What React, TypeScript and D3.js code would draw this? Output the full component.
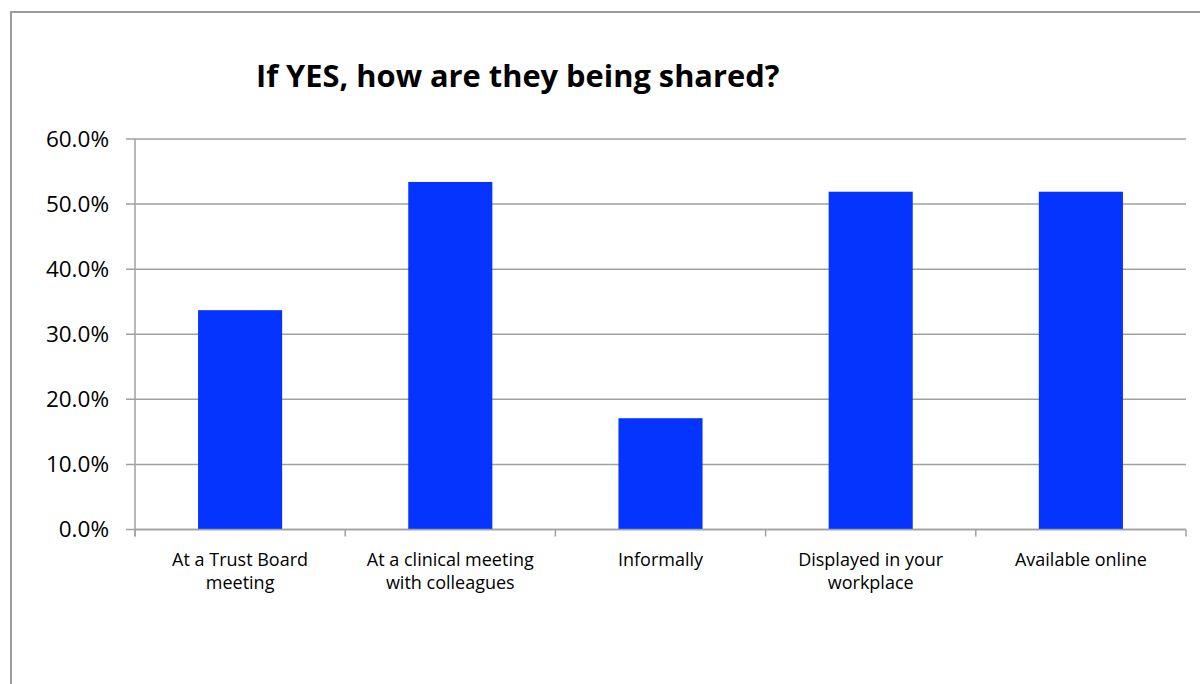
import React from "react";
import * as d3 from "d3";

const title = "If YES, how are they being shared?";
const categories = [
  "At a Trust Board meeting",
  "At a clinical meeting with colleagues",
  "Informally",
  "Displayed in your workplace",
  "Available online",
];
const categoryLines = [
  ["At a Trust Board", "meeting"],
  ["At a clinical meeting", "with colleagues"],
  ["Informally"],
  ["Displayed in your", "workplace"],
  ["Available online"],
];
const values = [33.7, 53.4, 17.1, 51.9, 51.9];
const yTicks = [0, 10, 20, 30, 40, 50, 60];

const W = 1200;
const H = 684;
const plotLeft = 135;
const plotRight = 1186;
const plotTop = 139;
const plotBottom = 529.5;
const FONT = "'Open Sans', 'Liberation Sans', sans-serif";
const GRID = "#a0a0a0";
const BAR = "#0533ff";

export default function App() {
  const x = d3
    .scaleBand<string>()
    .domain(categories)
    .range([plotLeft, plotRight])
    .paddingInner(0.6)
    .paddingOuter(0.3);
  const y = d3.scaleLinear().domain([0, 60]).range([plotBottom, plotTop]);
  const step = x.step();
  const bounds = d3.range(categories.length + 1).map((i) => plotLeft + i * step);

  return (
    <div style={{ position: "absolute", left: 0, top: 0 }}>
      <svg width={W} height={H} style={{ display: "block", background: "#fff" }}>
        <rect x={11} y={12} width={W + 20} height={H + 20} fill="#fff" stroke="#9c9c9c" strokeWidth={2} />
        <text
          x={256}
          y={87}
          fontFamily={FONT}
          fontWeight="bold"
          fontSize={30.8}
          fill="#000"
        >
          {title}
        </text>
        {yTicks.map((t) => (
          <g key={t}>
            <line x1={126} x2={plotRight} y1={y(t)} y2={y(t)} stroke={GRID} strokeWidth={1.5} />
            <text
              x={109}
              y={y(t)}
              dy="0.35em"
              textAnchor="end"
              fontFamily={FONT}
              fontSize={22.5}
              fill="#000"
            >
              {t.toFixed(1) + "%"}
            </text>
          </g>
        ))}
        {categories.map((c, i) => (
          <rect
            key={c}
            x={x(c)}
            y={y(values[i])}
            width={x.bandwidth()}
            height={plotBottom - y(values[i])}
            fill={BAR}
          />
        ))}
        <line x1={plotLeft} x2={plotLeft} y1={plotTop} y2={plotBottom + 7} stroke={GRID} strokeWidth={1.5} />
        <line x1={plotLeft} x2={plotRight} y1={plotBottom} y2={plotBottom} stroke={GRID} strokeWidth={1.5} />
        {bounds.map((b, i) => (
          <line key={i} x1={b} x2={b} y1={plotBottom} y2={plotBottom + 7} stroke={GRID} strokeWidth={1.5} />
        ))}
        {categories.map((c, i) =>
          categoryLines[i].map((line, j) => (
            <text
              key={c + j}
              x={(x(c) as number) + x.bandwidth() / 2}
              y={566 + j * 22.5}
              textAnchor="middle"
              fontFamily={FONT}
              fontSize={18}
              fill="#000"
            >
              {line}
            </text>
          ))
        )}
      </svg>
    </div>
  );
}
